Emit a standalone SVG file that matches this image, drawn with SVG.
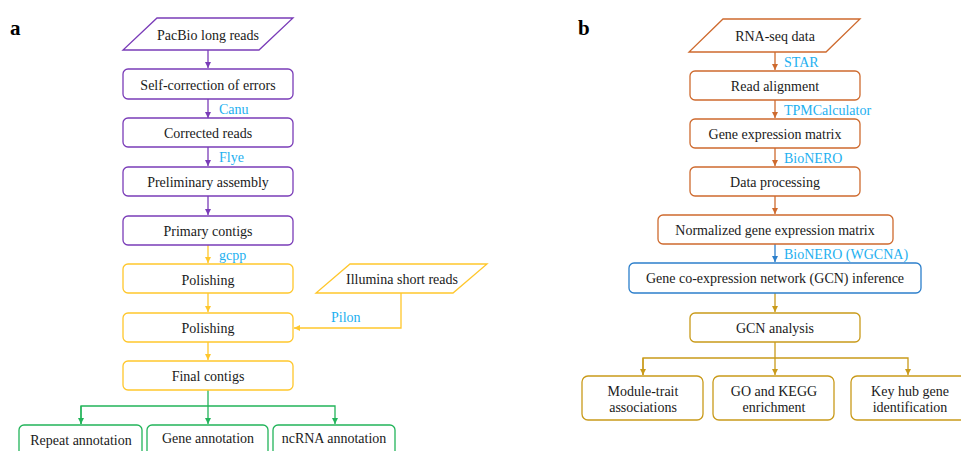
<svg xmlns="http://www.w3.org/2000/svg" width="961" height="451" viewBox="0 0 961 451">
<style>
text{font-family:"Liberation Serif","Times New Roman",serif;font-size:14px;fill:#1a1a1a;text-anchor:middle;dominant-baseline:central}
.tool{fill:#1EB0F0;text-anchor:start}
.panel{font-size:21px;font-weight:bold;text-anchor:start;fill:#000}
.box{fill:#fff;stroke-width:1.3}
.pu{stroke:#7A3CB8}.ye{stroke:#FFC72C}.gr{stroke:#22B45A}.or{stroke:#CE6A2E}.bl{stroke:#2C7FCB}.go{stroke:#C99A1A}
.ln{fill:none;stroke-width:1.3}
</style>
<defs>
<marker id="ap" viewBox="0 0 6 6" refX="6" refY="3" markerWidth="6" markerHeight="6" markerUnits="userSpaceOnUse" orient="auto"><path d="M0,0L6,3L0,6z" fill="#7A3CB8"/></marker>
<marker id="ay" viewBox="0 0 6 6" refX="6" refY="3" markerWidth="6" markerHeight="6" markerUnits="userSpaceOnUse" orient="auto"><path d="M0,0L6,3L0,6z" fill="#FFC72C"/></marker>
<marker id="ag" viewBox="0 0 6 6" refX="6" refY="3" markerWidth="6" markerHeight="6" markerUnits="userSpaceOnUse" orient="auto"><path d="M0,0L6,3L0,6z" fill="#22B45A"/></marker>
<marker id="ao" viewBox="0 0 6 6" refX="6" refY="3" markerWidth="6" markerHeight="6" markerUnits="userSpaceOnUse" orient="auto"><path d="M0,0L6,3L0,6z" fill="#CE6A2E"/></marker>
<marker id="ab" viewBox="0 0 6 6" refX="6" refY="3" markerWidth="6" markerHeight="6" markerUnits="userSpaceOnUse" orient="auto"><path d="M0,0L6,3L0,6z" fill="#2C7FCB"/></marker>
<marker id="aq" viewBox="0 0 6 6" refX="6" refY="3" markerWidth="6" markerHeight="6" markerUnits="userSpaceOnUse" orient="auto"><path d="M0,0L6,3L0,6z" fill="#C99A1A"/></marker>
</defs>
<rect width="961" height="451" fill="#fff"/>
<text class="panel" x="10" y="28">a</text>
<text class="panel" x="578" y="28">b</text>

<g id="connectors">
<path class="ln pu" d="M208,50V68" marker-end="url(#ap)"/>
<path class="ln pu" d="M208,99V118" marker-end="url(#ap)"/>
<path class="ln pu" d="M208,147V166" marker-end="url(#ap)"/>
<path class="ln pu" d="M208,196V215" marker-end="url(#ap)"/>
<path class="ln ye" d="M208,245V263" marker-end="url(#ay)"/>
<path class="ln ye" d="M208,293V312" marker-end="url(#ay)"/>
<path class="ln ye" d="M401,293V328H294" marker-end="url(#ay)"/>
<path class="ln ye" d="M208,342V360" marker-end="url(#ay)"/>
<path class="ln gr" d="M208,390V406"/>
<path class="ln gr" d="M81,424V406H335V424" marker-end="url(#ag)"/>
<path class="ln gr" d="M81,406V424" marker-end="url(#ag)"/>
<path class="ln gr" d="M208,406V424" marker-end="url(#ag)"/>
<text class="tool" x="219" y="109">Canu</text>
<text class="tool" x="219" y="157">Flye</text>
<text class="tool" x="219" y="255">gcpp</text>
<text class="tool" x="331" y="317">Pilon</text>

<path class="ln or" d="M775,52V70" marker-end="url(#ao)"/>
<path class="ln or" d="M775,100V118" marker-end="url(#ao)"/>
<path class="ln or" d="M775,148V166" marker-end="url(#ao)"/>
<path class="ln or" d="M775,196V214" marker-end="url(#ao)"/>
<path class="ln bl" d="M775,244V262" marker-end="url(#ab)"/>
<path class="ln go" d="M775,293V312" marker-end="url(#aq)"/>
<path class="ln go" d="M775,342V358"/>
<path class="ln go" d="M643,375V358H908V375" marker-end="url(#aq)"/>
<path class="ln go" d="M775,358V375" marker-end="url(#aq)"/>
<path class="ln go" d="M643,358V375" marker-end="url(#aq)"/>
<text class="tool" x="784" y="62">STAR</text>
<text class="tool" x="784" y="110">TPMCalculator</text>
<text class="tool" x="784" y="158">BioNERO</text>
<text class="tool" x="784" y="254">BioNERO (WGCNA)</text>
</g>

<g id="pacbio"><path class="box pu" d="M157,18H293L259,50H123Z"/><text x="208" y="35">PacBio long reads</text></g>
<g id="selfcorr"><rect class="box pu" x="123" y="69" width="170" height="30" rx="5"/><text x="208" y="85">Self-correction of errors</text></g>
<g id="corrected"><rect class="box pu" x="123" y="118" width="170" height="29" rx="5"/><text x="208" y="133">Corrected reads</text></g>
<g id="prelim"><rect class="box pu" x="123" y="167" width="170" height="29" rx="5"/><text x="208" y="182">Preliminary assembly</text></g>
<g id="primary"><rect class="box pu" x="123" y="216" width="170" height="29" rx="5"/><text x="208" y="231">Primary contigs</text></g>
<g id="polish1"><rect class="box ye" x="123" y="264" width="170" height="29" rx="5"/><text x="208" y="280">Polishing</text></g>
<g id="polish2"><rect class="box ye" x="123" y="313" width="170" height="29" rx="5"/><text x="208" y="328">Polishing</text></g>
<g id="illumina"><path class="box ye" d="M350,264H487L453,293H316Z"/><text x="402" y="279">Illumina short reads</text></g>
<g id="final"><rect class="box ye" x="123" y="361" width="170" height="29" rx="5"/><text x="208" y="376">Final contigs</text></g>
<g id="repeat"><rect class="box gr" x="19" y="425" width="123" height="40" rx="5"/><text x="81" y="440">Repeat annotation</text></g>
<g id="geneann"><rect class="box gr" x="147" y="425" width="121" height="40" rx="5"/><text x="208" y="438">Gene annotation</text></g>
<g id="ncrna"><rect class="box gr" x="273" y="425" width="122" height="40" rx="5"/><text x="334" y="438">ncRNA annotation</text></g>

<g id="rnaseq"><path class="box or" d="M723,19H860L826,52H689Z"/><text x="775" y="36">RNA-seq data</text></g>
<g id="readalign"><rect class="box or" x="690" y="71" width="170" height="29" rx="5"/><text x="775" y="86">Read alignment</text></g>
<g id="gem"><rect class="box or" x="690" y="119" width="170" height="29" rx="5"/><text x="775" y="134">Gene expression matrix</text></g>
<g id="dataproc"><rect class="box or" x="690" y="167" width="170" height="29" rx="5"/><text x="775" y="182">Data processing</text></g>
<g id="normgem"><rect class="box or" x="658" y="215" width="235" height="29" rx="5"/><text x="775" y="230">Normalized gene expression matrix</text></g>
<g id="gcninf"><rect class="box bl" x="629" y="263" width="292" height="30" rx="5"/><text x="775" y="278">Gene co-expression network (GCN) inference</text></g>
<g id="gcnana"><rect class="box go" x="690" y="313" width="170" height="29" rx="5"/><text x="775" y="328">GCN analysis</text></g>
<g id="module"><rect class="box go" x="582" y="376" width="121" height="44" rx="6"/><text x="643" y="391">Module-trait</text><text x="643" y="407">associations</text></g>
<g id="gokegg"><rect class="box go" x="713" y="376" width="121" height="44" rx="6"/><text x="774" y="391">GO and KEGG</text><text x="774" y="407">enrichment</text></g>
<g id="keyhub"><rect class="box go" x="851" y="376" width="121" height="44" rx="6"/><text x="910" y="391">Key hub gene</text><text x="910" y="407">identification</text></g>
</svg>
